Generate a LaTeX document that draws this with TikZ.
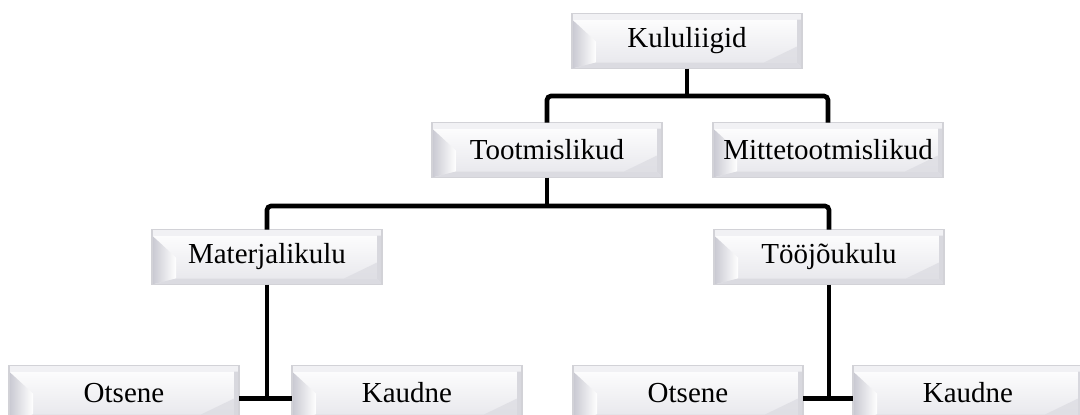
\documentclass[tikz,border=0pt]{standalone}
\usepackage{fontspec}
\setmainfont{Liberation Serif}
\usepackage{tikz}
\usetikzlibrary{calc,positioning,backgrounds}
\definecolor{klEdge}{HTML}{D2D2D7}
\definecolor{klTop}{HTML}{F1F1F4}
\definecolor{klLeft}{HTML}{C8C8D1}
\definecolor{klFace}{HTML}{E6E6EB}
\definecolor{klBottom}{HTML}{DBDBE1}
\definecolor{klRight}{HTML}{D8D8DE}
\tikzset{
	cost tree/.style={
		x=.5pt, y=-.5pt,
		font=\fontsize{14.5}{17}\selectfont},
	kl box/.style={
		minimum width=115pt, minimum height=27.5pt,
		inner sep=0pt, outer sep=0pt},
	kl wire/.style={draw, line width=2.3pt, rounded corners=2pt}
}
% bevelled face behind a box node
\newcommand\klbevel[1]{%
	\shade[top color=white, bottom color=klFace] (#1.north west) rectangle (#1.south east);
	\fill[klTop] (#1.north west) rectangle ($(#1.north east)+(0,-3pt)$);
	\shade[left color=klLeft, right color=white]
		($(#1.north west)+(0,-3pt)$) -- ($(#1.north west)+(12pt,-14pt)$)
		-- ($(#1.south west)+(12pt,3pt)$) -- (#1.south west) -- cycle;
	\fill[klRight] ($(#1.north east)+(0,-3pt)$) -- ($(#1.north east)+(-2.5pt,-3pt)$)
		-- ($(#1.south east)+(-2.5pt,3pt)$) -- (#1.south east) -- cycle;
	\fill[klBottom] (#1.south west) -- ($(#1.south west)+(12pt,3pt)$)
		-- ($(#1.south east)+(-2.5pt,3pt)$) -- (#1.south east) -- cycle;
	\fill[klBottom,opacity=.7] ($(#1.south east)+(-19pt,3pt)$)
		-- ($(#1.south east)+(-2.5pt,11pt)$) -- ($(#1.south east)+(-2.5pt,3pt)$) -- cycle;
	\draw[klEdge, line width=.6pt] (#1.north west) rectangle (#1.south east);
}

\begin{document}
\begin{tikzpicture}[cost tree]
	\useasboundingbox (0,0) rectangle (1080,414);
	\node[kl box] (kul)   at (687,41)  {Kululiigid};
	\node[kl box] (toot)  at (547,150) {Tootmislikud};
	\node[kl box] (mitte) at (828,150) {Mittetootmislikud};
	\node[kl box] (mat)   at (267,257) {Materjalikulu};
	\node[kl box] (too)   at (829,257) {Tööjõukulu};
	\node[kl box] (ots1)  at (124,393) {Otsene};
	\node[kl box] (kau1)  at (407,393) {Kaudne};
	\node[kl box] (ots2)  at (688,393) {Otsene};
	\node[kl box] (kau2)  at (968,393) {Kaudne};

	\begin{scope}[on background layer]
		\foreach \n in {kul,toot,mitte,mat,too,ots1,kau1,ots2,kau2}
			{\klbevel{\n}}
	\end{scope}

	% buses between levels
	\path (kul.south) ++(0,27.5) coordinate (bus1);
	\path (toot.south) ++(0,28.5) coordinate (bus2);
	\path ($(ots1.east)!.5!(kau1.west)$) ++(0,5.5) coordinate (j1);
	\path ($(ots2.east)!.5!(kau2.west)$) ++(0,5.5) coordinate (j2);

	\draw[kl wire] (kul.south) -- (bus1);
	\draw[kl wire] (toot.north) |- (bus1) -| (mitte.north);
	\draw[kl wire] (toot.south) -- (bus2);
	\draw[kl wire] (mat.north) |- (bus2) -| (too.north);
	\draw[kl wire] (mat.south) -- (mat.south |- j1);
	\draw[kl wire] (ots1.east |- j1) -- (kau1.west |- j1);
	\draw[kl wire] (too.south) -- (too.south |- j2);
	\draw[kl wire] (ots2.east |- j2) -- (kau2.west |- j2);
\end{tikzpicture}
\end{document}
